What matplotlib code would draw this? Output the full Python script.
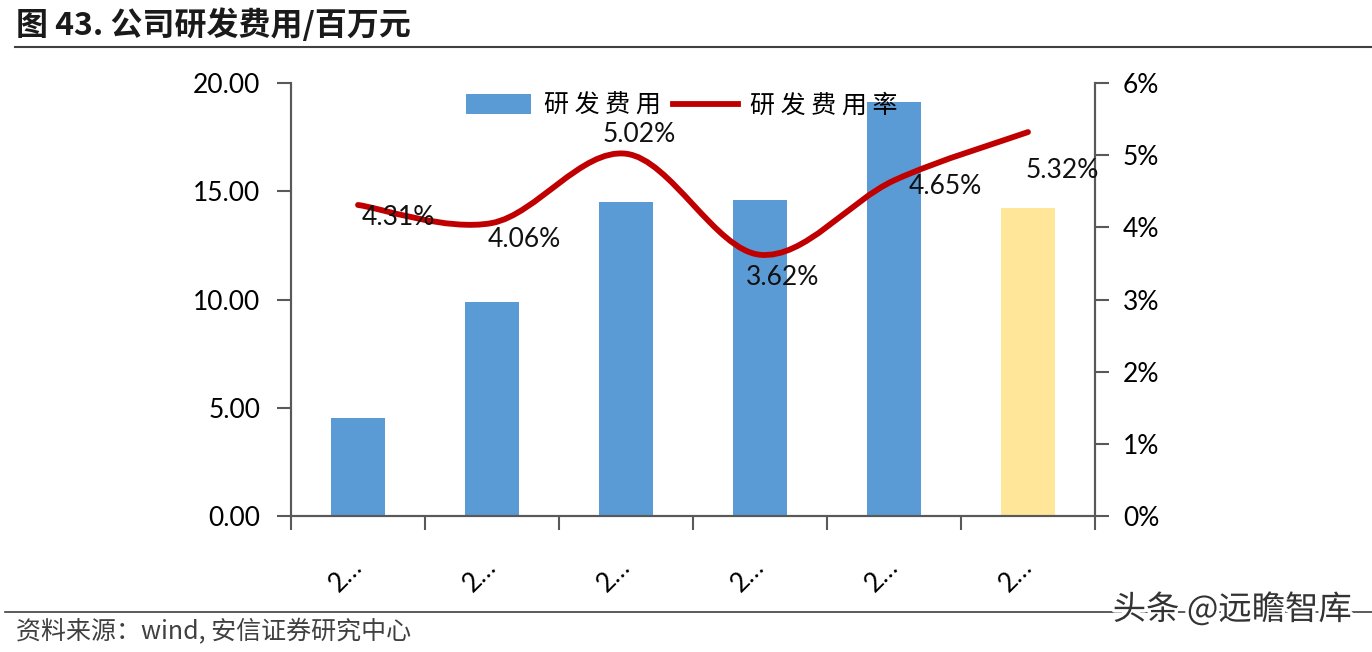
import matplotlib
matplotlib.use("Agg")
import matplotlib.pyplot as plt
from matplotlib.path import Path
from matplotlib.patches import PathPatch, Patch
from matplotlib.lines import Line2D
import matplotlib.patheffects as pe
import numpy as np

plt.rcParams['font.family'] = ['Lato', 'Noto Sans CJK SC', 'DejaVu Sans']

# data
categories = ["2…", "2…", "2…", "2…", "2…", "2…"]
rd_cost = [4.53, 9.88, 14.50, 14.60, 19.12, 14.23]      # 百万元
rd_rate = [4.31, 4.06, 5.02, 3.62, 4.65, 5.32]          # %
rate_labels = ["4.31%", "4.06%", "5.02%", "3.62%", "4.65%", "5.32%"]

bar_colors = ["#5B9BD5"] * 5 + ["#FFE699"]
axis_col = "#595959"
cjk = ['Noto Sans CJK SC', 'DejaVu Sans']

fig = plt.figure(figsize=(13.72, 6.52), dpi=100)
ax = fig.add_axes([291 / 1372, 1 - 516 / 652, 804 / 1372, 433 / 652])
ax2 = ax.twinx()

x = np.arange(len(categories))
ax.bar(x, rd_cost, width=0.4, color=bar_colors, zorder=2)
ax.set_xlim(-0.5, len(categories) - 0.5)
ax.set_ylim(0, 20)
ax.set_yticks([0, 5, 10, 15, 20])
ax.set_yticklabels(["%.2f" % v for v in [0, 5, 10, 15, 20]], fontsize=19)

ax.set_xticks(x)
ax.set_xticklabels(categories, rotation=45, fontsize=19, ha='right',
                   va='center', rotation_mode='anchor')
ax.set_xticks(np.arange(len(categories) + 1) - 0.5, minor=True)
ax.tick_params(axis='x', which='major', length=0, pad=34)
ax.tick_params(axis='x', which='minor', length=10, width=1.5, color=axis_col, direction='out')
ax.tick_params(axis='y', length=10, width=1.5, color=axis_col, pad=12)

ax2.set_ylim(0, 6)
ax2.set_yticks(range(7))
ax2.set_yticklabels(["%d%%" % v for v in range(7)], fontsize=19)
ax2.tick_params(axis='y', length=10, width=1.5, color=axis_col, pad=10)

for a in (ax, ax2):
    a.spines['top'].set_visible(False)
    for s in ('left', 'right', 'bottom'):
        a.spines[s].set_color(axis_col)
        a.spines[s].set_linewidth(1.5)

# smoothed rate line (bezier through the points, like Excel's smooth line)
pts = list(zip(x, rd_rate))
verts = [pts[0]]
codes = [Path.MOVETO]
for i in range(len(pts) - 1):
    p0 = pts[i - 1] if i > 0 else pts[i]
    p1 = pts[i]
    p2 = pts[i + 1]
    p3 = pts[i + 2] if i + 2 < len(pts) else pts[i + 1]
    c1 = (p1[0] + (p2[0] - p0[0]) / 6, p1[1] + (p2[1] - p0[1]) / 6)
    c2 = (p2[0] - (p3[0] - p1[0]) / 6, p2[1] - (p3[1] - p1[1]) / 6)
    verts += [c1, c2, p2]
    codes += [Path.CURVE4] * 3
ax2.add_patch(PathPatch(Path(verts, codes), facecolor='none', edgecolor='#C00000',
                        lw=4.2, capstyle='round', zorder=3))

offsets = [(40, -13), (32, -16), (13, 19), (23, -23), (51, -6), (34, -38)]
for xi, yi, lab, off in zip(x, rd_rate, rate_labels, offsets):
    ax2.annotate(lab, (xi, yi), xytext=off, textcoords='offset pixels',
                 ha='center', va='center', fontsize=19, color='#111111', zorder=4)

handles = [Patch(facecolor="#5B9BD5", edgecolor='none'),
           Line2D([0], [0], color='#C00000', lw=4.2)]
leg = fig.legend(handles, ["研 发 费 用", "研 发 费 用 率"], loc='center',
                 bbox_to_anchor=(682 / 1372, 1 - 106 / 652), ncol=2, frameon=False,
                 prop={'family': cjk, 'size': 18}, handlelength=2.6, handleheight=0.85,
                 columnspacing=0.5, handletextpad=0.5)

# title, rules and source
fig.text(16 / 1372, 1 - 25 / 652, "图 43. 公司研发费用/百万元", fontsize=23, fontweight='bold',
         family=cjk, va='center', ha='left', color='#1a1a1a')
fig.add_artist(Line2D([15 / 1372, 1.0], [1 - 47 / 652] * 2, color='#404040', lw=1.5))
fig.add_artist(Line2D([5 / 1372, 1.0], [1 - 612 / 652] * 2, color='#404040', lw=1.2))
fig.text(16 / 1372, 1 - 632 / 652, "资料来源：wind, 安信证券研究中心", fontsize=18, style='italic',
         family=cjk, va='center', ha='left', color='#404040')
fig.text(1352 / 1372, 1 - 610 / 652, "头条 @远瞻智库", fontsize=24, family=cjk,
         va='center', ha='right', color='#333333',
         path_effects=[pe.withStroke(linewidth=5, foreground='white')])

fig.savefig("out.png", dpi=100)
